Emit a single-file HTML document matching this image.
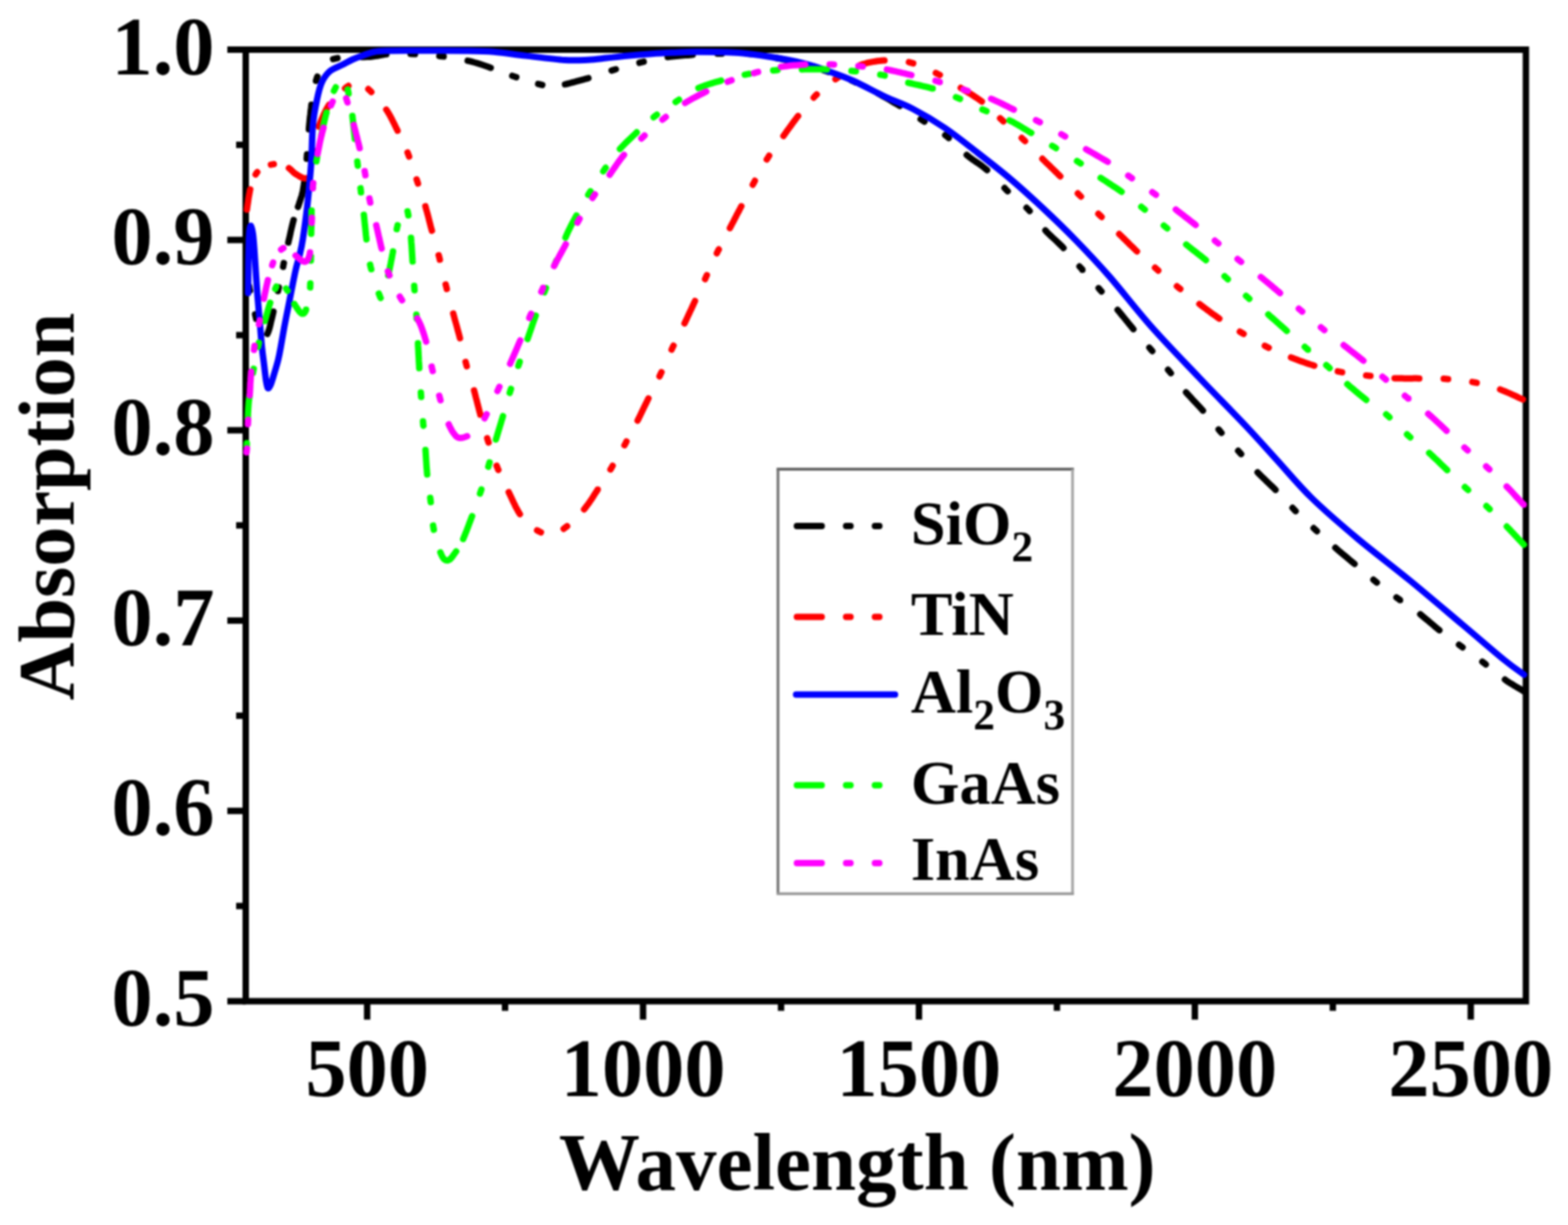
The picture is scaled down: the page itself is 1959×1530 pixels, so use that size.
<!DOCTYPE html>
<html><head><meta charset="utf-8"><title>Absorption vs Wavelength</title>
<style>html,body{margin:0;padding:0;background:#fff;width:1959px;height:1530px;overflow:hidden}svg{display:block}#w{filter:blur(1.2px)}</style>
</head><body><div id="w">
<svg width="1959" height="1530" viewBox="0 0 1959 1530">
<rect width="1959" height="1530" fill="#fff"/>
<g stroke="#000" stroke-width="8" fill="none" stroke-linecap="butt">
<rect x="307.0" y="62.0" width="1599.4" height="1188.5"/>
<line x1="284.0" y1="62.0" x2="307.0" y2="62.0"/>
<line x1="284.0" y1="299.7" x2="307.0" y2="299.7"/>
<line x1="284.0" y1="537.4" x2="307.0" y2="537.4"/>
<line x1="284.0" y1="775.1" x2="307.0" y2="775.1"/>
<line x1="284.0" y1="1012.8" x2="307.0" y2="1012.8"/>
<line x1="284.0" y1="1250.5" x2="307.0" y2="1250.5"/>
<line x1="295.0" y1="180.9" x2="307.0" y2="180.9"/>
<line x1="295.0" y1="418.6" x2="307.0" y2="418.6"/>
<line x1="295.0" y1="656.2" x2="307.0" y2="656.2"/>
<line x1="295.0" y1="893.9" x2="307.0" y2="893.9"/>
<line x1="295.0" y1="1131.6" x2="307.0" y2="1131.6"/>
<line x1="458.7" y1="1250.5" x2="458.7" y2="1273.5"/>
<line x1="803.4" y1="1250.5" x2="803.4" y2="1273.5"/>
<line x1="1148.1" y1="1250.5" x2="1148.1" y2="1273.5"/>
<line x1="1492.8" y1="1250.5" x2="1492.8" y2="1273.5"/>
<line x1="1837.5" y1="1250.5" x2="1837.5" y2="1273.5"/>
<line x1="631.0" y1="1250.5" x2="631.0" y2="1262.5"/>
<line x1="975.8" y1="1250.5" x2="975.8" y2="1262.5"/>
<line x1="1320.5" y1="1250.5" x2="1320.5" y2="1262.5"/>
<line x1="1665.2" y1="1250.5" x2="1665.2" y2="1262.5"/>
</g>
<g fill="none" stroke-width="8" stroke-linecap="round" stroke-linejoin="round">
<path d="M311.2 357.5L312.0 361.6L312.3 362.9M318.7 392.7L319.4 395.4L320.0 398.1M334.1 417.0L335.2 414.4L336.1 411.8L337.0 408.6L337.7 406.0L338.3 403.2L339.0 400.2L339.8 397.1L340.5 394.0L341.3 390.8L341.6 389.2M347.3 363.5L348.1 359.8L348.3 358.9M353.7 333.2L354.2 330.5L354.6 328.6M360.2 302.9L360.8 300.2L361.4 297.7L362.0 295.1L362.6 292.5L363.1 289.9L363.7 287.3L364.3 284.7L364.9 282.2L365.5 279.7L366.4 276.2L366.8 274.8M372.3 258.4L373.4 255.3L374.2 252.8L375.2 249.8L376.0 247.2L377.0 244.3L377.6 241.8L378.3 238.8L378.8 236.0L379.4 232.7L379.9 229.0L379.9 228.5M383.2 198.2L383.4 195.2L383.6 192.7M385.9 161.6L386.1 158.4L386.4 155.3L386.7 152.3L387.0 149.2L387.3 146.2L387.7 143.2L388.0 140.3L388.3 137.4L388.7 134.5L389.0 131.7L389.1 130.8M394.8 100.9L395.7 97.9L396.5 95.7M416.2 73.8L419.1 73.1L421.6 72.6M451.9 71.2L455.2 71.2L458.6 71.1L462.2 70.9L465.9 70.5L468.5 70.1L471.1 69.7L473.8 69.2L476.4 68.8L479.1 68.3L481.8 67.9L482.6 67.8M513.0 67.2L516.2 67.4L518.5 67.6M548.9 70.0L551.4 70.3L554.3 70.6M584.3 75.8L586.9 76.4L589.8 77.2L592.8 78.0L596.0 78.9L599.3 79.9L602.7 81.0L606.3 82.2L610.0 83.5L613.1 84.7M640.0 94.7L643.9 96.1L645.0 96.4M672.4 104.9L675.0 105.5L677.5 106.1M705.9 105.3L709.4 104.5L711.9 103.9L714.5 103.2L717.3 102.5L720.1 101.7L723.0 100.9L725.9 100.1L728.8 99.3L731.6 98.5L734.4 97.8L735.1 97.6M764.1 88.1L767.4 87.1L769.4 86.5M798.9 78.4L802.0 77.6L804.2 77.1M834.2 71.3L837.5 70.9L840.2 70.5L842.9 70.2L845.6 70.0L848.3 69.7L851.0 69.5L853.7 69.3L856.5 69.1L859.2 68.9L861.9 68.7L864.6 68.5L865.4 68.4M896.3 67.0L899.0 67.0L901.9 67.0M932.9 67.0L936.6 67.2L938.5 67.4M969.1 72.2L971.7 72.7L975.0 73.4L978.3 74.1L981.7 74.9L985.0 75.6L988.3 76.4L991.7 77.2L995.0 78.0L998.3 78.9L999.8 79.3M1029.5 88.0L1032.0 88.8L1034.8 89.8M1063.9 100.6L1066.9 101.8L1069.0 102.8M1096.8 116.6L1099.5 118.1L1102.3 119.6L1105.2 121.2L1108.0 122.8L1110.8 124.4L1113.6 126.1L1116.3 127.7L1119.0 129.3L1121.7 130.8L1124.1 132.2M1150.2 148.9L1153.3 150.8L1155.0 151.9M1180.9 168.8L1183.0 170.4L1185.2 172.2L1185.3 172.3M1207.8 193.6L1210.3 195.6L1212.5 197.3L1214.7 198.9L1217.0 200.5L1219.3 202.1L1221.7 203.7L1224.0 205.3L1226.3 206.9L1228.5 208.6L1230.7 210.3L1232.9 212.1L1233.2 212.4M1255.0 234.8L1256.9 236.8L1259.0 238.8M1282.5 259.5L1285.0 262.0L1286.4 263.5M1306.1 287.8L1307.9 289.8L1310.0 291.8L1312.1 293.8L1314.2 295.9L1316.4 297.9L1318.6 299.9L1320.7 301.9L1322.9 304.0L1325.0 306.0L1327.1 308.0L1328.7 309.7M1348.7 332.8L1350.4 334.7L1352.3 336.8L1352.3 336.9M1372.6 359.9L1374.9 362.6L1376.2 364.0M1396.3 387.1L1398.1 389.2L1399.9 391.4L1401.7 393.6L1403.5 395.8L1405.3 398.0L1407.1 400.2L1408.9 402.4L1410.6 404.6L1412.4 406.7L1414.2 408.9L1415.9 411.0L1416.0 411.1M1436.0 434.2L1437.9 436.5L1439.6 438.4M1459.3 461.8L1461.5 464.4L1462.8 466.1M1481.8 490.0L1483.8 492.2L1485.7 494.3L1487.6 496.3L1489.5 498.4L1491.4 500.4L1493.3 502.4L1495.2 504.5L1497.1 506.5L1499.0 508.5L1500.9 510.6L1502.8 512.7L1502.9 512.8M1522.5 536.4L1525.0 539.4L1526.1 540.6M1546.9 563.1L1548.7 565.0L1550.5 567.0L1550.6 567.1M1571.2 589.9L1573.1 591.9L1575.3 594.1L1577.6 596.3L1579.9 598.5L1582.2 600.8L1584.6 603.1L1586.9 605.3L1589.2 607.5L1591.5 609.7L1593.6 611.8M1614.8 634.3L1616.8 636.4L1618.7 638.3L1618.7 638.3M1641.2 659.6L1643.5 661.7L1645.3 663.4M1668.3 684.1L1670.2 685.8L1672.4 687.7L1674.7 689.6L1676.9 691.5L1679.2 693.4L1681.4 695.2L1683.7 697.1L1685.9 699.0L1688.1 700.8L1690.3 702.6L1692.3 704.3M1715.9 724.1L1718.1 725.9L1720.2 727.6M1744.7 746.2L1746.9 747.8L1749.2 749.4L1749.2 749.5M1774.4 767.2L1776.7 769.1L1779.1 771.1L1781.5 773.1L1784.0 775.1L1786.4 777.2L1788.9 779.3L1791.3 781.3L1793.7 783.4L1796.1 785.3L1798.3 787.1M1822.8 805.3L1825.6 807.3L1827.3 808.5M1852.0 826.5L1854.0 828.0L1856.2 829.7L1856.3 829.8M1880.2 848.8L1882.3 850.3L1884.6 851.8L1887.0 853.3L1889.5 854.8L1891.9 856.3L1894.2 857.7L1896.5 859.0L1899.5 860.8L1902.1 862.3L1904.0 863.5" stroke="#000"/>
<path d="M308.5 261.8L308.9 258.7L309.3 255.9L309.8 252.9L310.2 249.7L310.7 246.4L311.3 243.2L311.9 240.1L312.4 237.1L312.6 236.5M319.4 217.9L320.8 215.7L321.4 215.0M338.5 205.6L341.3 205.1L342.1 205.0M361.0 210.0L363.3 211.9L365.1 213.7L367.0 215.5L369.0 217.0L371.5 218.5L374.0 220.1L376.5 221.4L379.2 222.4L381.9 222.7L382.6 222.6M391.2 194.2L391.6 191.6L392.0 188.7M398.4 158.1L399.3 155.4L400.6 152.1L401.9 148.9L403.3 145.8L404.6 142.8L406.0 140.0L407.3 137.4L408.6 135.0L409.9 132.8L411.1 130.9M431.1 110.3L433.4 108.5L435.3 107.2M460.2 111.3L462.7 113.7L463.9 114.9M482.6 136.9L484.0 139.0L485.9 142.1L487.7 145.3L489.4 148.5L491.0 151.7L492.7 155.0L494.3 158.4L495.4 160.7L496.6 162.9L496.7 163.2M509.2 190.5L510.4 193.7L511.1 195.5M520.5 224.0L521.4 226.8L522.2 229.2M531.5 257.7L532.5 261.4L533.3 264.1L534.0 266.9L534.8 269.6L535.5 272.4L536.2 275.2L536.9 278.0L537.6 280.8L538.3 283.6L539.1 286.3L539.6 288.1M548.1 318.8L549.0 322.0L549.5 324.3M556.8 355.3L557.7 358.7L558.2 360.9M566.3 391.7L567.2 395.0L568.1 398.4L569.1 402.0L570.1 405.5L571.1 409.1L572.0 412.7L573.0 416.2L573.9 419.6L574.6 422.3M581.7 452.0L582.4 454.6L583.1 457.3M592.3 487.7L593.3 491.4L594.0 494.2L594.7 497.0L595.5 499.8L596.2 502.7L596.9 505.6L597.7 508.5L598.4 511.3L599.1 514.1L599.9 516.9L600.1 517.8M608.7 547.4L609.5 550.0L610.4 552.7M620.5 581.7L621.5 584.3L622.5 586.7L622.6 586.8M635.6 614.7L637.3 618.3L638.7 621.3L640.1 624.3L641.5 627.3L643.0 630.3L644.4 633.3L646.0 636.1L647.5 638.9L649.1 641.5L649.5 642.1M671.0 662.4L673.8 663.9L675.8 664.8M704.2 660.4L706.4 658.8L708.5 657.2M729.7 636.2L731.6 633.9L733.2 631.7L734.8 629.6L736.4 627.4L737.9 625.1L739.4 622.9L740.9 620.6L742.3 618.3L743.8 616.1L745.3 613.8L746.8 611.5L746.8 611.4M762.7 586.4L764.0 584.2L765.4 581.8M780.2 556.1L782.0 552.8L782.7 551.4M796.6 525.3L797.8 522.9L799.0 520.5L800.2 518.0L801.4 515.5L802.6 513.0L803.8 510.5L805.0 508.0L806.3 505.4L807.5 502.9L808.7 500.4L809.9 497.9L810.1 497.6M824.0 470.0L825.6 466.5L826.4 464.9M839.1 436.7L840.6 433.4L841.5 431.7M855.2 403.9L856.5 401.2L857.7 398.7L858.9 396.1L860.1 393.6L861.3 391.0L862.5 388.4L863.7 385.9L864.9 383.3L866.1 380.7L867.2 378.2L868.3 375.9M880.9 348.6L882.1 345.9L883.1 343.7M895.6 316.3L896.7 314.0L897.9 311.6L898.0 311.5M911.9 284.9L913.6 281.7L914.9 279.2L916.3 276.6L917.6 274.0L919.0 271.4L920.3 268.7L921.7 266.1L923.1 263.5L924.4 261.0L925.7 258.5L926.2 257.6M940.5 230.7L942.3 227.3L943.1 225.8M958.0 199.2L960.0 196.0L960.9 194.5M978.8 169.8L980.8 167.1L982.3 164.9L983.9 162.7L985.5 160.5L987.1 158.3L988.7 156.1L990.3 153.9L991.9 151.7L993.6 149.5L995.2 147.3L996.9 145.1L997.1 144.9M1016.6 121.9L1019.0 119.3L1020.4 118.0M1043.8 98.9L1046.0 97.4L1048.3 95.9M1074.7 81.3L1077.8 80.2L1080.4 79.5L1083.0 78.7L1085.6 78.1L1088.2 77.6L1090.8 77.1L1093.4 76.7L1096.0 76.3L1098.6 76.0L1101.1 75.8L1103.7 75.6L1105.0 75.5M1135.6 77.6L1138.4 78.4L1140.9 79.1M1169.2 91.1L1171.9 92.5L1174.2 93.6M1200.3 109.8L1202.6 111.2L1205.1 112.7L1207.5 114.2L1210.0 115.7L1212.4 117.2L1214.9 118.7L1217.3 120.3L1219.7 121.9L1222.1 123.5L1224.4 125.1L1226.7 126.8L1226.7 126.8M1249.5 147.7L1252.0 150.0L1253.6 151.5M1276.5 172.3L1278.8 174.5L1280.6 176.2M1302.3 198.3L1305.0 201.0L1307.1 203.1L1309.2 205.1L1311.4 207.2L1313.5 209.3L1315.7 211.4L1317.8 213.5L1319.9 215.5L1322.0 217.6L1324.0 219.6L1324.7 220.2M1346.6 241.6L1349.0 244.0L1350.5 245.5M1372.3 267.1L1374.8 269.5L1376.3 270.9M1398.3 292.3L1401.0 294.9L1403.1 297.0L1405.2 299.0L1407.3 301.1L1409.4 303.2L1411.5 305.3L1413.7 307.4L1415.8 309.4L1417.9 311.5L1419.9 313.5L1420.5 314.0M1443.0 334.3L1445.8 336.8L1447.1 337.9M1470.4 357.5L1472.6 359.3L1474.6 360.9M1498.5 379.7L1501.5 382.0L1503.8 383.7L1506.1 385.4L1508.5 387.2L1510.8 388.9L1513.2 390.7L1515.6 392.4L1518.0 394.1L1520.3 395.8L1522.7 397.4L1523.4 397.9M1549.0 414.2L1552.0 416.0L1553.7 417.0M1580.2 431.9L1583.0 433.3L1585.1 434.3M1612.9 446.4L1615.8 447.5L1618.3 448.5L1620.9 449.4L1623.5 450.4L1626.1 451.4L1628.7 452.3L1631.3 453.2L1633.9 454.1L1636.5 455.0L1639.1 455.8L1641.7 456.6L1642.0 456.7M1671.4 463.9L1674.0 464.4L1676.7 464.9L1676.8 464.9M1706.8 468.9L1709.4 469.2L1712.1 469.5L1712.2 469.5M1742.3 472.4L1745.8 472.5L1748.7 472.6L1751.7 472.6L1754.7 472.7L1757.7 472.7L1760.8 472.7L1763.8 472.7L1766.8 472.6L1769.7 472.6L1772.6 472.7L1773.2 472.7M1803.7 473.1L1806.3 473.3L1809.1 473.5L1809.2 473.5M1839.5 477.1L1843.0 477.7L1844.9 478.1M1874.2 486.4L1877.1 487.6L1880.1 488.8L1883.2 490.1L1886.3 491.4L1889.4 492.8L1892.4 494.2L1895.3 495.5L1897.9 496.8L1900.4 497.9L1902.6 498.9" stroke="#f00"/>
<path d="M310.0,366.0 C310.1,358.3 310.2,332.7 310.5,320.0 C310.8,307.3 311.0,296.3 311.5,290.0 C312.0,283.7 312.8,281.7 313.5,282.0 C314.2,282.3 315.2,286.5 316.0,292.0 C316.8,297.5 317.2,303.7 318.0,315.0 C318.8,326.3 319.9,345.0 321.0,360.0 C322.1,375.0 323.7,392.5 324.8,405.0 C325.9,417.5 326.5,426.5 327.4,435.0 C328.3,443.5 329.2,449.3 330.0,456.0 C330.8,462.7 331.6,470.2 332.3,475.0 C333.1,479.8 333.6,483.3 334.5,484.5 C335.4,485.7 336.4,484.1 337.5,482.0 C338.6,479.9 339.4,477.3 341.0,472.0 C342.6,466.7 345.7,456.7 347.4,450.0 C349.1,443.3 349.8,438.7 351.0,432.0 C352.2,425.3 353.2,419.2 354.9,410.0 C356.6,400.8 359.0,389.1 361.4,377.0 C363.8,364.9 367.1,347.4 369.3,337.6 C371.5,327.8 373.0,324.5 374.5,318.0 C376.0,311.5 376.9,308.2 378.4,298.4 C379.9,288.6 382.4,269.9 383.7,259.0 C385.0,248.1 385.4,242.8 386.3,233.0 C387.2,223.2 388.2,213.0 389.0,200.0 C389.8,187.0 389.8,167.6 391.0,155.0 C392.2,142.4 394.2,133.2 396.0,124.5 C397.8,115.8 399.3,108.9 402.0,103.0 C404.7,97.1 407.8,92.7 412.0,89.0 C416.2,85.3 422.8,83.4 427.5,81.0 C432.2,78.6 436.2,76.2 440.0,74.5 C443.8,72.8 445.6,72.1 450.0,70.5 C454.4,68.9 460.9,66.2 466.7,65.0 C472.5,63.8 476.1,63.8 485.0,63.5 C493.9,63.2 504.2,63.3 520.0,63.3 C535.8,63.3 563.8,63.3 580.0,63.5 C596.2,63.7 604.2,63.7 617.0,64.7 C629.8,65.7 641.8,67.9 656.5,69.6 C671.2,71.3 692.4,74.2 705.5,75.0 C718.6,75.8 726.4,75.1 735.0,74.7 C743.6,74.3 749.5,73.4 757.0,72.6 C764.5,71.8 770.5,70.9 780.0,70.0 C789.5,69.1 804.0,67.9 814.0,67.2 C824.0,66.5 830.7,66.2 840.0,65.8 C849.3,65.4 856.2,64.8 870.0,64.8 C883.8,64.8 907.3,64.9 923.0,66.0 C938.7,67.1 950.3,69.1 964.0,71.3 C977.7,73.5 993.1,76.3 1005.0,79.3 C1016.9,82.3 1025.4,85.7 1035.6,89.3 C1045.8,92.9 1054.1,95.7 1066.0,101.0 C1077.9,106.3 1094.7,115.6 1107.0,121.4 C1119.3,127.2 1127.7,129.4 1140.0,135.8 C1152.3,142.2 1167.2,150.8 1180.8,160.0 C1194.4,169.2 1208.1,180.4 1221.7,191.0 C1235.3,201.6 1249.0,212.1 1262.5,223.6 C1276.0,235.1 1289.4,247.3 1303.0,260.0 C1316.6,272.7 1330.2,285.8 1344.0,300.0 C1357.8,314.2 1370.0,326.9 1385.8,345.0 C1401.6,363.1 1420.2,387.4 1438.8,408.4 C1457.4,429.4 1478.0,450.4 1497.6,471.0 C1517.2,491.6 1540.2,514.7 1556.5,532.0 C1572.8,549.3 1582.0,560.0 1595.7,575.0 C1609.4,590.0 1622.1,605.7 1638.8,622.0 C1655.5,638.3 1675.5,655.4 1696.0,672.6 C1716.5,689.8 1739.7,707.1 1761.5,725.0 C1783.3,742.9 1807.4,763.5 1827.0,780.0 C1846.6,796.5 1866.2,813.6 1879.0,824.0 C1891.8,834.4 1899.8,839.5 1904.0,842.6" stroke="#00f"/>
<path d="M308.3 557.0L308.4 553.5M309.5 523.1L309.7 519.5L309.8 516.0L310.0 513.0L310.2 509.5L310.4 506.7L310.6 503.9L310.9 500.8L311.3 497.9L311.7 495.2L311.9 493.4M316.1 465.6L316.6 462.6L317.0 460.6M322.4 433.0L323.2 429.6L323.5 428.1M330.9 401.0L331.8 397.9L332.7 395.0L333.4 392.3L334.2 389.7L334.8 387.2L335.5 384.8L336.2 382.4L337.0 379.9L337.6 378.2M343.9 360.9L345.1 358.2L345.3 357.8M357.4 360.4L359.2 363.1L359.3 363.2M367.7 379.6L369.4 382.3L371.1 384.9L372.9 387.5L374.6 389.7L376.7 391.7L379.4 391.8L381.1 389.7L382.4 387.0L382.4 386.8M387.5 359.0L387.6 356.1L387.7 353.9M388.4 325.5L388.4 320.6L388.5 320.3M388.8 291.9L388.8 289.3L388.9 286.8L389.0 282.1L389.0 278.0L389.1 274.2L389.2 270.7L389.2 267.5L389.2 264.5L389.3 263.0M390.7 234.7L390.9 231.9L391.2 229.6M395.3 201.5L396.0 197.5L396.2 196.4M401.5 168.5L402.3 164.7L402.8 162.1L403.4 159.5L403.9 157.0L405.0 152.3L406.0 148.0L407.0 144.1L407.9 140.4L408.0 140.4M417.2 113.5L418.6 110.7L419.5 109.0M434.4 111.8L435.3 115.5L435.5 116.8M440.3 144.8L440.7 148.5L441.2 153.0L441.7 157.7L442.2 162.5L442.7 167.3L443.2 172.0L443.3 173.5M446.4 201.8L446.9 206.0L447.0 206.9M450.4 235.1L450.9 238.8L451.0 240.2M454.6 268.3L455.0 271.8L455.3 274.8L455.6 278.0L455.9 281.1L456.3 284.3L456.6 287.4L456.9 290.6L457.2 293.7L457.6 296.7L457.8 298.9M462.4 330.6L463.0 333.2L463.8 336.2L463.8 336.2M473.3 366.7L474.3 369.4L475.3 371.8L475.5 372.1M485.0 343.9L485.8 340.2L486.4 337.5L487.0 334.8L487.5 332.1L488.1 329.3L488.6 326.5L489.2 323.7L489.7 321.0L490.2 318.2L490.8 315.5L491.0 313.9M495.7 286.2L496.3 283.4L496.8 281.3M509.2 264.0L509.8 266.8L510.2 269.0M513.5 296.9L513.7 299.6L513.9 302.8L514.2 306.1L514.4 309.4L514.6 312.8L514.8 316.1L515.0 319.4L515.2 322.6L515.4 325.6L515.5 326.6M517.5 357.0L517.7 359.9L517.9 362.5M520.2 392.9L520.4 395.4L520.5 398.1L520.6 398.3M522.2 428.8L522.3 431.5L522.5 434.7L522.7 437.8L522.8 441.0L523.0 444.3L523.2 447.5L523.3 450.7L523.5 453.8L523.7 456.8L523.8 459.8M525.8 490.2L526.0 493.0L526.2 495.7L526.2 495.7M528.5 526.2L528.7 528.9L528.9 531.5L529.0 531.7M531.6 562.1L531.8 564.9L532.0 568.0L532.2 571.2L532.4 574.4L532.6 577.6L532.8 580.8L533.0 584.0L533.3 587.1L533.5 590.2L533.7 592.6M537.5 621.8L537.8 624.4L538.2 627.1M541.1 656.4L541.7 660.1L542.0 661.6M550.2 689.9L551.5 693.0L552.9 695.8L554.6 698.2L556.9 699.8L559.6 700.0L561.9 698.8L563.8 696.9L565.4 694.9L567.0 692.7L568.6 690.5L569.9 688.7M578.7 673.2L579.8 670.5L580.8 668.1L581.8 665.6L582.9 662.9L583.9 660.2L585.0 657.5L586.0 654.7L587.0 652.0L588.1 649.2L589.0 646.6L589.8 644.7M599.7 616.5L600.8 613.2L601.4 611.4M610.1 582.8L611.0 579.7L611.6 577.6M619.6 548.9L620.6 545.6L621.4 542.8L622.3 540.0L623.1 537.2L624.0 534.3L624.8 531.5L625.7 528.7L626.5 525.8L627.4 523.0L628.2 520.3L628.4 519.7M636.8 490.8L637.6 488.3L638.4 485.7L638.4 485.7M647.6 457.0L648.6 454.0L649.3 451.9M659.1 423.4L660.2 420.2L661.2 417.4L662.1 414.6L663.1 411.8L664.1 409.0L665.0 406.1L666.0 403.2L667.0 400.4L668.0 397.6L669.0 394.8L669.3 394.1M680.1 365.0L681.3 361.9L682.1 359.8M693.0 330.8L694.6 326.6L695.0 325.5M706.5 296.7L707.8 293.6L709.2 290.5L710.6 287.6L711.9 284.9L713.1 282.4L714.3 280.1L715.5 277.8L716.7 275.6L717.9 273.4L719.1 271.1L720.2 269.1M734.9 243.4L736.3 241.1L737.7 238.9M753.7 213.9L755.2 211.6L756.6 209.6L756.7 209.5M774.5 186.0L777.1 183.3L779.3 181.0L781.6 178.7L783.9 176.4L786.3 174.1L788.7 171.8L791.0 169.6L793.4 167.4L795.5 165.3M816.6 146.4L819.0 144.5L820.7 143.3M844.1 127.3L846.8 125.5L848.3 124.5M872.6 109.9L875.0 108.9L877.6 107.9L880.4 106.9L883.2 106.0L886.1 105.0L889.0 104.1L891.9 103.2L894.8 102.4L897.6 101.6L900.3 100.8L900.9 100.6M930.5 93.3L933.9 92.6L935.9 92.3M966.0 88.0L969.4 87.7L971.4 87.5M1001.9 86.7L1005.1 86.6L1007.8 86.6L1010.5 86.6L1013.3 86.5L1016.0 86.5L1018.7 86.5L1021.4 86.5L1024.1 86.5L1026.8 86.5L1029.5 86.6L1032.2 86.7L1033.0 86.7M1063.8 88.6L1067.5 89.0L1069.3 89.1M1099.8 93.3L1103.0 93.9L1105.3 94.4M1134.8 103.3L1137.6 104.0L1140.3 104.7L1143.1 105.3L1145.9 105.9L1148.7 106.5L1151.5 107.2L1154.2 107.8L1157.0 108.4L1159.8 109.1L1162.5 109.8L1165.2 110.6L1165.3 110.6M1194.3 121.4L1197.0 122.5L1199.4 123.5M1227.4 136.7L1230.0 137.8L1232.5 138.9M1261.2 150.4L1264.2 151.8L1266.6 153.1L1269.0 154.5L1271.4 155.8L1273.8 157.2L1276.2 158.7L1278.5 160.1L1280.9 161.5L1283.2 162.9L1285.5 164.3L1287.9 165.7L1288.4 166.0M1314.6 182.1L1316.8 183.4L1319.3 185.0L1319.3 185.0M1345.6 201.1L1348.2 202.8L1350.2 204.1M1375.1 222.1L1377.7 223.8L1380.3 225.5L1382.9 227.2L1385.5 229.0L1388.2 230.7L1390.8 232.5L1393.5 234.2L1396.1 235.9L1398.6 237.6L1401.0 239.3L1401.3 239.5M1425.9 258.3L1428.0 260.0L1430.3 261.8L1430.3 261.8M1454.0 281.7L1456.5 283.8L1458.3 285.3M1482.0 305.4L1484.6 307.5L1487.0 309.4L1489.4 311.3L1491.9 313.2L1494.4 315.1L1496.8 317.1L1499.3 319.0L1501.7 320.9L1504.1 322.8L1506.4 324.7L1506.6 324.9M1529.9 345.0L1532.0 346.9L1534.0 348.7M1556.7 369.5L1559.0 371.5L1560.9 373.2M1584.6 392.8L1586.7 394.7L1588.9 396.6L1591.0 398.4L1593.1 400.3L1595.3 402.2L1597.4 404.1L1599.5 406.0L1601.7 407.9L1603.8 409.8L1605.9 411.6L1607.7 413.3M1630.1 433.2L1631.9 434.9L1634.1 436.7L1634.1 436.8M1657.0 456.1L1659.7 458.4L1661.1 459.7M1683.3 479.8L1686.1 482.3L1688.3 484.1L1690.5 485.9L1692.7 487.8L1694.9 489.6L1697.1 491.5L1699.4 493.3L1701.6 495.1L1703.8 496.9L1705.9 498.6L1707.0 499.4M1731.8 517.5L1733.8 519.2L1735.9 521.2M1757.9 542.5L1760.0 544.5L1762.0 546.2M1785.6 565.7L1788.0 567.9L1790.2 570.0L1792.4 572.1L1794.7 574.2L1797.0 576.4L1799.2 578.6L1801.5 580.8L1803.7 582.9L1805.8 585.0L1808.0 587.0L1808.1 587.2M1830.1 608.3L1832.0 610.0L1834.0 611.8L1834.2 612.0M1857.1 632.1L1859.0 633.9L1861.0 635.8L1861.1 635.9M1882.5 657.6L1884.6 659.9L1886.9 662.2L1889.1 664.6L1891.4 667.0L1893.7 669.4L1895.8 671.7L1897.9 673.9L1899.8 675.9L1902.2 678.5L1903.8 680.2" stroke="#0f0"/>
<path d="M308.0 565.0L308.3 562.2L308.6 560.2M309.7 529.7L309.9 526.2L310.0 524.2M311.9 493.8L312.2 490.5L312.4 486.8L312.6 483.1L312.7 479.5L313.0 475.8L313.2 472.1L313.4 469.5L313.6 466.9L313.8 464.3M317.3 437.0L317.8 433.2L318.0 432.0M323.5 405.0L324.0 402.5L324.6 400.2M329.7 373.1L330.2 370.5L330.8 367.4L331.5 364.4L332.1 361.3L332.7 358.3L333.4 355.3L334.1 352.3L334.7 349.8M340.1 331.2L341.2 327.9M351.2 311.7L353.3 310.2L354.1 309.8M369.3 319.2L371.6 321.1L373.8 322.9L375.9 324.7L378.4 326.3L381.0 327.0L383.3 325.9L384.9 323.7L385.9 321.1L386.7 318.5L387.3 315.4L387.3 315.2M389.4 278.5L389.5 274.8L389.6 272.1L389.6 271.9M390.8 235.2L391.0 231.2L391.3 228.6M396.8 192.2L397.6 188.0L398.6 183.2L399.5 178.5L400.5 173.9L401.5 169.6L402.5 165.6L403.6 161.6L404.2 159.5M413.6 131.7L414.7 128.8L415.6 126.8M432.5 122.8L433.5 125.9L434.1 127.9M442.0 156.1L442.8 159.2L444.0 163.6L445.0 167.6L446.0 171.4L446.9 175.2L447.9 179.0L448.8 182.7L449.3 185.0M455.6 213.7L456.3 217.4L456.5 218.9M461.5 247.8L462.0 250.2L462.6 252.8L462.6 252.9M470.1 281.3L470.9 284.8L471.6 287.9L472.3 291.0L473.0 294.2L473.8 297.4L474.5 300.6L475.2 303.7L475.9 306.8L476.6 309.8L476.8 310.4M484.6 338.9L485.7 341.7L486.6 343.9M499.5 370.5L501.1 373.2L502.3 375.0M521.3 397.6L522.7 400.1L524.3 403.3L525.8 406.7L527.1 410.1L528.3 413.6L529.5 417.1L530.6 420.7L531.3 423.1L532.0 425.5L532.4 426.7M539.3 457.9L540.1 461.5L540.6 463.4M548.8 494.3L549.8 497.9L550.3 499.8M560.6 530.0L562.0 532.9L563.2 535.3L564.8 538.2L566.4 540.6L567.9 542.6L569.6 544.7L571.9 546.4L574.8 547.1L577.3 546.8L580.4 546.0L582.9 545.1L583.7 544.8M605.4 522.5L606.9 519.5L608.0 517.3M621.5 488.4L622.9 485.4L623.9 483.2M637.3 454.3L638.7 451.2L639.8 448.6L641.0 446.0L642.1 443.4L643.3 440.7L644.4 438.1L645.6 435.4L646.7 432.7L647.8 430.1L649.0 427.4L649.9 425.2M661.3 397.0L662.4 394.3L663.4 392.0M676.3 364.4L677.4 362.1L678.6 359.6L678.6 359.5M692.2 332.3L693.7 329.4L694.9 327.1L696.2 324.7L697.5 322.3L698.8 319.9L700.1 317.5L701.5 315.0L702.8 312.6L704.1 310.2L705.5 307.7L706.8 305.2L706.9 305.0M721.4 278.1L723.3 274.7L724.1 273.3M740.2 247.3L741.8 245.0L743.3 242.8L743.3 242.8M761.7 218.3L763.2 216.1L764.8 213.8L766.4 211.4L768.0 209.1L769.6 206.7L771.3 204.3L773.0 201.9L774.7 199.6L776.4 197.3L778.2 195.1L779.6 193.4M801.3 172.9L804.0 170.5L805.3 169.3M827.6 149.5L830.5 147.1L831.8 146.1M855.9 128.6L858.2 127.2L860.4 125.9L862.6 124.6L865.8 122.8L869.1 121.1L872.3 119.4L875.7 117.7L877.9 116.6L880.2 115.4L882.4 114.4M909.1 102.1L912.0 101.0L914.0 100.2M942.0 91.3L945.0 90.4L947.1 89.9M975.8 83.5L978.4 83.1L981.1 82.7L983.8 82.4L986.5 82.1L989.2 81.8L992.0 81.6L994.7 81.4L997.4 81.2L1000.2 81.0L1002.9 80.8L1005.6 80.7L1006.0 80.6M1036.5 80.5L1039.6 80.6L1042.0 80.7M1072.4 82.6L1075.4 82.8L1077.9 83.1M1108.1 86.9L1111.1 87.4L1113.8 88.0L1116.5 88.6L1119.2 89.2L1121.9 89.8L1124.6 90.4L1127.4 91.1L1130.1 91.7L1132.8 92.4L1135.5 93.0L1138.2 93.7L1138.6 93.8M1168.8 100.9L1171.4 101.6L1174.0 102.4L1174.1 102.4M1203.7 111.8L1206.5 112.7L1209.0 113.5M1238.3 123.4L1241.6 124.8L1244.4 126.1L1247.2 127.4L1249.9 128.7L1252.7 130.0L1255.4 131.3L1258.1 132.6L1260.7 134.0L1263.4 135.3L1266.0 136.6L1266.6 136.9M1294.3 150.1L1296.7 151.3L1299.2 152.6M1326.0 167.6L1329.0 169.4L1330.8 170.4M1356.9 186.4L1359.1 187.7L1361.9 189.3L1364.7 190.9L1367.6 192.5L1370.5 194.2L1373.4 195.9L1376.3 197.6L1379.1 199.2L1381.8 200.8L1384.0 202.1M1409.6 219.4L1412.6 221.5L1414.2 222.6M1439.6 240.0L1442.1 241.8L1444.2 243.3M1469.0 261.7L1471.4 263.6L1473.9 265.5L1476.4 267.4L1478.9 269.3L1481.4 271.3L1483.9 273.2L1486.4 275.2L1488.9 277.1L1491.3 279.0L1493.7 280.9L1493.8 281.0M1517.8 300.6L1520.8 303.0L1522.2 304.1M1546.2 323.6L1549.1 325.9L1550.6 327.1M1575.2 346.0L1577.3 347.7L1579.5 349.5L1581.8 351.3L1584.0 353.2L1586.2 355.0L1588.5 356.9L1590.7 358.8L1592.9 360.6L1595.1 362.5L1597.3 364.3L1599.2 366.0M1622.7 385.6L1625.0 387.5L1626.9 389.1M1650.3 408.8L1653.0 411.0L1654.6 412.3M1678.7 431.1L1681.2 433.0L1683.4 434.7L1685.5 436.4L1687.7 438.1L1689.9 439.8L1692.1 441.5L1694.2 443.2L1696.4 444.9L1698.6 446.7L1700.8 448.4L1702.9 450.1L1703.4 450.5M1727.2 470.5L1729.4 472.3L1731.5 474.1M1755.2 494.3L1757.3 496.0L1759.5 497.8L1759.6 497.8M1784.3 516.8L1786.2 518.5L1788.4 520.4L1790.6 522.4L1792.8 524.4L1794.9 526.4L1797.1 528.4L1799.3 530.4L1801.4 532.4L1803.5 534.4L1805.6 536.4L1807.3 538.0M1829.6 558.9L1831.8 560.9L1833.7 562.5M1856.7 582.5L1859.1 584.7L1860.7 586.2M1882.4 607.7L1884.8 610.1L1886.9 612.3L1889.1 614.6L1891.2 616.9L1893.3 619.2L1895.4 621.5L1897.4 623.6L1899.2 625.6L1901.6 628.2L1903.5 630.3L1903.6 630.3" stroke="#f0f"/>
</g>
<g font-family="'Liberation Serif', 'Times New Roman', serif" font-weight="bold" fill="#000">
<text x="268" y="92.5" font-size="103" text-anchor="end">1.0</text>
<text x="268" y="330.2" font-size="103" text-anchor="end">0.9</text>
<text x="268" y="567.9" font-size="103" text-anchor="end">0.8</text>
<text x="268" y="805.6" font-size="103" text-anchor="end">0.7</text>
<text x="268" y="1043.3" font-size="103" text-anchor="end">0.6</text>
<text x="268" y="1281.0" font-size="103" text-anchor="end">0.5</text>
<text x="458.7" y="1368.5" font-size="103" text-anchor="middle">500</text>
<text x="803.4" y="1368.5" font-size="103" text-anchor="middle">1000</text>
<text x="1148.1" y="1368.5" font-size="103" text-anchor="middle">1500</text>
<text x="1492.8" y="1368.5" font-size="103" text-anchor="middle">2000</text>
<text x="1837.5" y="1368.5" font-size="103" text-anchor="middle">2500</text>
<text x="1071" y="1485.5" font-size="101.3" text-anchor="middle">Wavelength (nm)</text>
<text transform="translate(91.5,632.6) rotate(-90)" x="0" y="0" font-size="100.2" text-anchor="middle">Absorption</text>
</g>
<line x1="970.3" y1="586.0" x2="1341.7" y2="586.0" stroke="#5a5a5a" stroke-width="3.4"/>
<line x1="972.0" y1="586.0" x2="972.0" y2="1116.3" stroke="#737373" stroke-width="3.4"/>
<line x1="1340.0" y1="586.0" x2="1340.0" y2="1116.3" stroke="#a5a5a5" stroke-width="3.4"/>
<line x1="970.3" y1="1116.3" x2="1341.7" y2="1116.3" stroke="#999" stroke-width="3.4"/>
<g font-family="'Liberation Serif', 'Times New Roman', serif" font-weight="bold" fill="#000" font-size="78">
<path d="M995.6,657.0 H1118" stroke="#000" stroke-width="8" stroke-linecap="round" stroke-dasharray="31 30.5 5.5 30.5 5.5 30.5" fill="none"/>
<text x="1138" y="679.8">SiO<tspan font-size="54" dy="21">2</tspan></text>
<path d="M995.6,770.6 H1118" stroke="#f00" stroke-width="8" stroke-linecap="round" stroke-dasharray="31 30.5 5.5 30.5 5.5 30.5" fill="none"/>
<text x="1138" y="792.6">TiN</text>
<path d="M994.6,867.5 H1118.2" stroke="#00f" stroke-width="8" stroke-linecap="round" fill="none"/>
<text x="1138" y="889.6">Al<tspan font-size="54" dy="21">2</tspan><tspan dy="-21">O</tspan><tspan font-size="54" dy="21">3</tspan></text>
<path d="M995.6,980.7 H1118" stroke="#0f0" stroke-width="8" stroke-linecap="round" stroke-dasharray="31 30.5 5.5 30.5 5.5 30.5" fill="none"/>
<text x="1138" y="1004.3">GaAs</text>
<path d="M995.6,1078.0 H1118" stroke="#f0f" stroke-width="8" stroke-linecap="round" stroke-dasharray="31 30.5 5.5 30.5 5.5 30.5" fill="none"/>
<text x="1138" y="1099.4">InAs</text>
</g>
</svg>
</div></body></html>
